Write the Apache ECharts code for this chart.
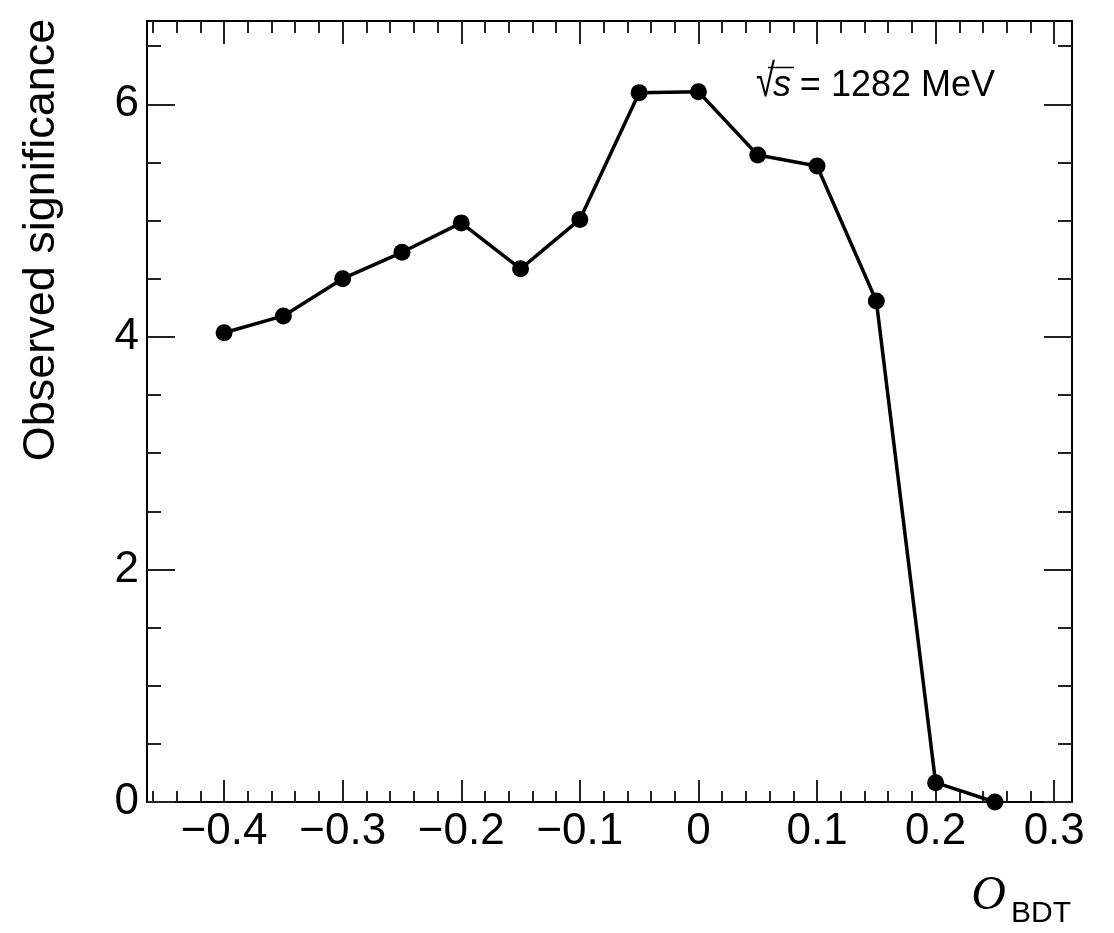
<!DOCTYPE html>
<html>
<head>
<meta charset="utf-8">
<script src="https://cdn.jsdelivr.net/npm/echarts@6/dist/echarts.min.js"></script>
<style>html,body{margin:0;padding:0;background:#fff}#c{width:1114px;height:933px}</style>
</head>
<body>
<div id="c"></div>
<script>
// ---- data ----
const xValues = [-0.40, -0.35, -0.30, -0.25, -0.20, -0.15, -0.10, -0.05, 0.00, 0.05, 0.10, 0.15, 0.20, 0.25];
const yValues = [4.035, 4.18, 4.50, 4.727, 4.98, 4.585, 5.01, 6.10, 6.107, 5.563, 5.469, 4.308, 0.166, 0.0];
const xTickLabels = [-0.4, -0.3, -0.2, -0.1, 0, 0.1, 0.2, 0.3];
const yTickLabels = [0, 2, 4, 6];
const xMinorTicks = [-0.46,-0.44,-0.42,-0.38,-0.36,-0.34,-0.32,-0.28,-0.26,-0.24,-0.22,-0.18,-0.16,-0.14,-0.12,-0.08,-0.06,-0.04,-0.02,0.02,0.04,0.06,0.08,0.12,0.14,0.16,0.18,0.22,0.24,0.26,0.28];
const yMinorTicks = [0.5, 1, 1.5, 2.5, 3, 3.5, 4.5, 5, 5.5, 6.5];
const XMIN = -0.465, XMAX = 0.315, YMIN = 0, YMAX = 6.716;

const FONT = "'Liberation Sans', Arial, Helvetica, sans-serif";
const chart = echarts.init(document.getElementById('c'), null, {renderer: 'canvas'});

function fmt(v) {
  if (Math.abs(v) < 1e-9) return '0';
  const s = (Math.round(Math.abs(v) * 10) / 10).toString();
  return v < 0 ? '\u2212' + s : s;
}
const tickStyle = {color: '#222', width: 2};
function xAxisDef(pos, ticks, len, showLine, showLabel) {
  return {
    type: 'value', min: XMIN, max: XMAX, position: pos,
    axisLine: {show: showLine, onZero: false, lineStyle: {color: '#000', width: 2}},
    axisTick: {show: true, inside: true, length: len, customValues: ticks, lineStyle: tickStyle},
    axisLabel: {show: showLabel, customValues: ticks, formatter: fmt, fontSize: 44, fontFamily: FONT, color: '#000', margin: 8},
    splitLine: {show: false}, minorTick: {show: false}
  };
}
function yAxisDef(pos, ticks, len, showLine, showLabel) {
  return {
    type: 'value', min: YMIN, max: YMAX, position: pos,
    axisLine: {show: showLine, onZero: false, lineStyle: {color: '#000', width: 2}},
    axisTick: {show: true, inside: true, length: len, customValues: ticks, lineStyle: tickStyle},
    axisLabel: {show: showLabel, customValues: ticks, formatter: fmt, fontSize: 44, fontFamily: FONT, color: '#000', margin: 8},
    splitLine: {show: false}, minorTick: {show: false}
  };
}

chart.setOption({
  animation: false,
  backgroundColor: '#fff',
  grid: {left: 147, top: 21, right: 42, bottom: 131, containLabel: false},
  xAxis: [
    xAxisDef('bottom', xTickLabels, 22, true, true),
    xAxisDef('bottom', xMinorTicks, 11, false, false),
    xAxisDef('top', xTickLabels, 23, true, false),
    xAxisDef('top', xMinorTicks, 12, false, false)
  ],
  yAxis: [
    yAxisDef('left', yTickLabels, 28, true, true),
    yAxisDef('left', yMinorTicks, 14, false, false),
    yAxisDef('right', yTickLabels, 28, true, false),
    yAxisDef('right', yMinorTicks, 14, false, false)
  ],
  series: [{
    type: 'line',
    xAxisIndex: 0, yAxisIndex: 0,
    data: xValues.map((x, i) => [x, yValues[i]]),
    symbol: 'circle', symbolSize: 17,
    clip: false,
    itemStyle: {color: '#000'},
    lineStyle: {color: '#000', width: 3.5}
  }],
  graphic: [
    {type: 'text', x: 42, y: 240, rotation: Math.PI / 2,
     style: {text: 'Observed significance', font: "45px " + FONT, fill: '#000', align: 'center', verticalAlign: 'middle'}},
    {type: 'text', x: 1006, y: 896,
     style: {text: 'O', font: "italic 48px 'Liberation Serif', 'Times New Roman', serif", fill: '#000', align: 'right', verticalAlign: 'middle'}},
    {type: 'text', x: 1071, y: 914,
     style: {text: 'BDT', font: "30px " + FONT, fill: '#000', align: 'right', verticalAlign: 'middle'}},
    {type: 'text', x: 756, y: 83, scaleX: 0.75, originX: 0, originY: 0,
     style: {text: '\u221A', font: "46px " + FONT, fill: '#000', align: 'left', verticalAlign: 'middle'}},
    {type: 'text', x: 773, y: 86,
     style: {text: 's', font: "italic 36px " + FONT, fill: '#000', align: 'left', verticalAlign: 'middle'}},
    {type: 'line', shape: {x1: 768, y1: 67.5, x2: 794, y2: 67.5}, style: {stroke: '#000', lineWidth: 1.5}},
    {type: 'text', x: 995, y: 86,
     style: {text: '= 1282 MeV', font: "36px " + FONT, fill: '#000', align: 'right', verticalAlign: 'middle'}}
  ]
});
</script>
</body>
</html>
